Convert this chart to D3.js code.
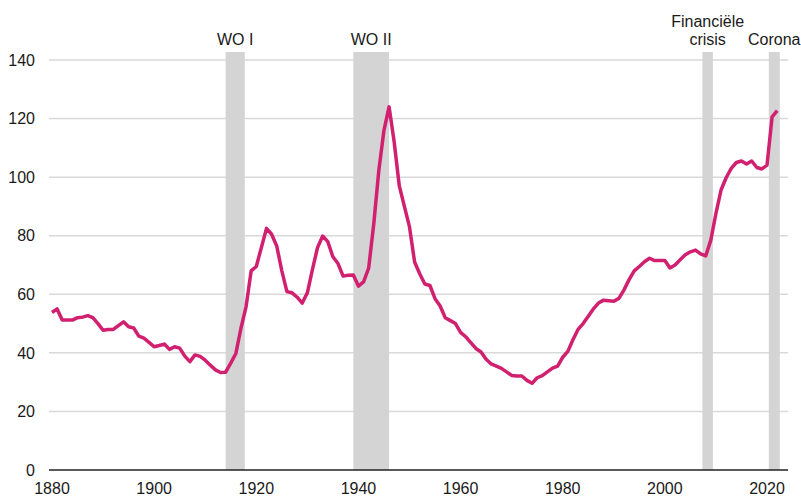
<!DOCTYPE html>
<html>
<head>
<meta charset="utf-8">
<script src="https://cdn.jsdelivr.net/npm/d3@7"></script>
<style>
  body { margin: 0; background: #fff; }
  svg text { font-family: 'Liberation Sans', Arial, sans-serif; fill: #1a1a1a; }
</style>
</head>
<body>
<svg id="chart" width="801" height="496"></svg>
<script>
// debt ratio per year, 1880 - 2022
var years = d3.range(1880, 2023);
var values = [
  53.8, 55, 51.2, 51.2, 51.2, 52, 52.2, 52.7, 52, 50,
  47.7, 48, 48, 49.3, 50.6, 48.9, 48.5, 45.7, 45, 43.6,
  42.1, 42.5, 43, 41.2, 42.1, 41.6, 38.9, 37, 39.3, 38.8,
  37.5, 35.8, 34.2, 33.3, 33.4, 36.5, 39.8, 48.4, 55.8, 68,
  69.5, 76, 82.5, 80.5, 76.5, 68, 60.9, 60.5, 59, 57,
  60.5, 68.5, 76, 79.9, 78, 72.8, 70.5, 66.2, 66.5, 66.6,
  62.8, 64.2, 68.9, 84, 102.4, 116, 124, 112, 97, 90,
  83, 71, 67, 63.5, 63, 58.5, 56, 52, 51, 50,
  47, 45.5, 43.5, 41.5, 40.3, 37.8, 36.2, 35.5, 34.7, 33.5,
  32.3, 32.1, 32.1, 30.6, 29.6, 31.5, 32.2, 33.5, 34.8, 35.5,
  38.5, 40.5, 44.5, 48, 50, 52.5, 55, 57, 58, 57.8,
  57.6, 58.6, 61.5, 65, 68, 69.5, 71.1, 72.3, 71.5, 71.5,
  71.5, 69, 70, 71.8, 73.5, 74.5, 75.1, 73.8, 73.1, 78.5,
  87.6, 95.6, 99.8, 103, 105, 105.5, 104.5, 105.5, 103.3, 102.8,
  104.1, 120.6, 122.7
];

// crisis periods
var bandLabels = [['WO I'], ['WO II'], ['Financiële', 'crisis'], ['Corona']];
var bandStart = [1914, 1939, 2007.35, 2020.35];
var bandEnd = [1917.75, 1946, 2009.4, 2022.5];

var yTicks = [0, 20, 40, 60, 80, 100, 120, 140];
var xTicks = [1880, 1900, 1920, 1940, 1960, 1980, 2000, 2020];

var svg = d3.select('#chart');

var x = d3.scaleLinear().domain([1880, 2020]).range([52, 767]);
var y = d3.scaleLinear().domain([0, 140]).range([470, 60]);

var left = 49, right = 788;

var bands = bandLabels.map(function(l, i) {
  return { label: l, start: bandStart[i], end: bandEnd[i] };
});

// gridlines
svg.append('g')
  .selectAll('line')
  .data(yTicks.filter(function(d) { return d > 0; }))
  .enter().append('line')
  .attr('x1', left)
  .attr('x2', right)
  .attr('y1', function(d) { return y(d); })
  .attr('y2', function(d) { return y(d); })
  .style('stroke', '#d9d9d9')
  .style('stroke-width', '1.5px');

// shaded periods
svg.append('g')
  .selectAll('rect')
  .data(bands)
  .enter().append('rect')
  .attr('x', function(d) { return x(d.start); })
  .attr('width', function(d) { return x(d.end) - x(d.start); })
  .attr('y', 52)
  .attr('height', y(0) - 52)
  .style('fill', '#d4d4d4');

var bandText = svg.append('g')
  .selectAll('text')
  .data(bands)
  .enter().append('text')
  .attr('text-anchor', 'middle')
  .style('font-size', '16px');

bandText.selectAll('tspan')
  .data(function(d) {
    return d.label.map(function(t, i) {
      return { text: t, cx: x((d.start + d.end) / 2), line: i, count: d.label.length };
    });
  })
  .enter().append('tspan')
  .attr('x', function(d) { return d.cx; })
  .attr('y', function(d) { return 45 - (d.count - 1 - d.line) * 18.5; })
  .text(function(d) { return d.text; });

// y axis labels
svg.append('g')
  .selectAll('text')
  .data(yTicks)
  .enter().append('text')
  .attr('x', 35)
  .attr('y', function(d) { return y(d); })
  .attr('dy', '0.36em')
  .attr('text-anchor', 'end')
  .style('font-size', '16px')
  .text(function(d) { return d; });

// x axis
svg.append('line')
  .attr('x1', left)
  .attr('x2', right)
  .attr('y1', y(0))
  .attr('y2', y(0))
  .style('stroke', '#222')
  .style('stroke-width', '1.5px');

svg.append('g')
  .selectAll('text')
  .data(xTicks)
  .enter().append('text')
  .attr('x', function(d) { return x(d); })
  .attr('y', 494)
  .attr('text-anchor', 'middle')
  .style('font-size', '16px')
  .text(function(d) { return d; });

// the line
var line = d3.line()
  .x(function(d, i) { return x(years[i]); })
  .y(function(d) { return y(d); });

svg.append('path')
  .datum(values)
  .attr('d', line)
  .style('fill', 'none')
  .style('stroke', '#d1206f')
  .style('stroke-width', '3.5px')
  .style('stroke-linejoin', 'round');
</script>
</body>
</html>
